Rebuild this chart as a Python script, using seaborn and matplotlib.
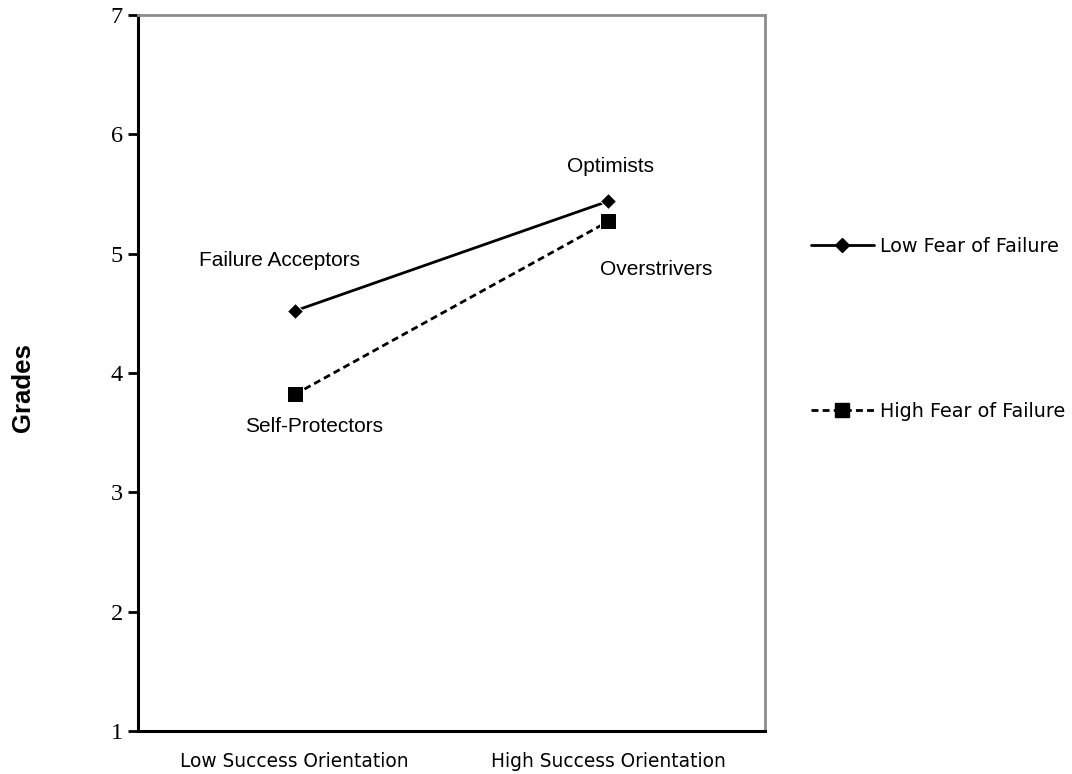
import pandas as pd
import matplotlib.pyplot as plt
import seaborn as sns
from matplotlib.lines import Line2D

# ── Data ──────────────────────────────────────────
orientation = ['Low Success Orientation', 'High Success Orientation']
low_fear = [4.52, 5.44]
high_fear = [3.82, 5.27]
groups = ['Low Fear of Failure', 'High Fear of Failure']
point_labels = ['Failure Acceptors', 'Optimists', 'Self-Protectors', 'Overstrivers']

df = pd.DataFrame({
    'orientation': orientation * 2,
    'grade': low_fear + high_fear,
    'fear': [groups[0]] * 2 + [groups[1]] * 2,
})

sns.set_style('white', {'text.color': 'black', 'axes.labelcolor': 'black',
                        'xtick.color': 'black', 'ytick.color': 'black'})

fig = plt.figure(figsize=(10.72, 7.74), dpi=100)
ax = fig.add_axes([0.1287, 0.0556, 0.5849, 0.925])

sns.lineplot(data=df, x='orientation', y='grade', hue='fear', style='fear',
             palette=['black', 'black'],
             markers={groups[0]: 'D', groups[1]: 's'},
             dashes={groups[0]: '', groups[1]: (2.5, 1.5)},
             markersize=9, linewidth=2, legend=False, ax=ax)
# diamonds smaller, squares bigger
ax.lines[0].set_markersize(8)
ax.lines[1].set_markersize(11)

ax.set_xlim(-0.5, 1.5)
ax.set_ylim(1, 7)
ax.set_yticks(range(1, 8))
ax.set_yticklabels([str(i) for i in range(1, 8)], fontfamily='Liberation Serif', fontsize=17.5)
ax.set_xticks([0, 1])
ax.set_xticklabels(orientation, fontfamily='DejaVu Sans', fontsize=13.4)
ax.set_xticks([-0.5, 0.5, 1.5], minor=True)
ax.tick_params(axis='x', which='major', length=0, pad=15)
ax.tick_params(axis='x', which='minor', length=7, width=2, color='black', direction='out')
ax.tick_params(axis='y', length=7, width=2, color='black', direction='out', pad=4,
               left=True)
ax.set_xlabel('')
ax.set_ylabel('Grades', fontfamily='Liberation Sans', fontsize=18.5, fontweight='bold')
ax.yaxis.set_label_coords(-0.165, 0.48)

for side in ['left', 'bottom']:
    ax.spines[side].set_color('black')
    ax.spines[side].set_linewidth(2.2)
for side in ['top', 'right']:
    ax.spines[side].set_color('#8c8c8c')
    ax.spines[side].set_linewidth(2)

# group labels
label_pos = [(-0.05, 4.94), (1.006, 5.73), (0.061, 3.55), (1.152, 4.87)]
for txt, (lx, ly) in zip(point_labels, label_pos):
    ax.text(lx, ly, txt, ha='center', va='center', fontfamily='Liberation Sans', fontsize=15)

# legend
handles = [
    Line2D([], [], color='black', lw=2, marker='D', markersize=7),
    Line2D([], [], color='black', lw=2, ls=(0, (2.5, 1.5)), marker='s', markersize=10),
]
fig.legend(handles, groups, loc='upper left', bbox_to_anchor=(0.740, 0.716),
           frameon=False, handlelength=3.3, handletextpad=0.3, labelspacing=7.6,
           prop={'family': 'DejaVu Sans', 'size': 13.8})

plt.savefig('out.png', dpi=100)
